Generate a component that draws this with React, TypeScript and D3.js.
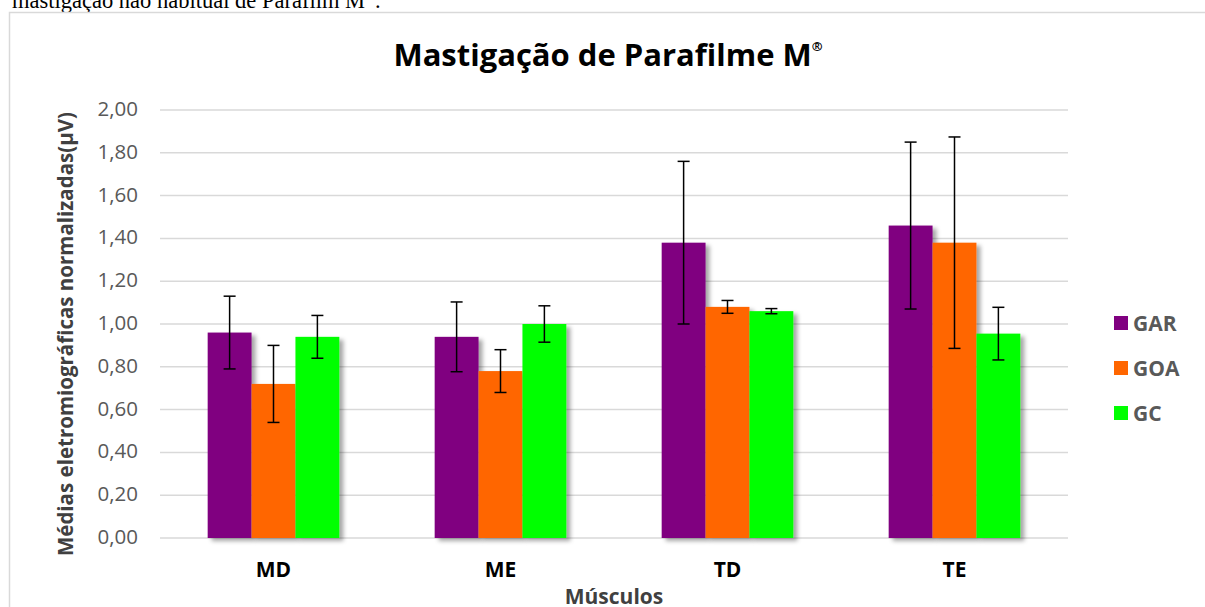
import React from "react";
import * as d3 from "d3";

const categories = ["MD", "ME", "TD", "TE"];
const seriesNames = ["GAR", "GOA", "GC"];
const seriesColors = ["#800080", "#FF6600", "#00FF00"];
const garValues = [0.96, 0.94, 1.38, 1.46];
const goaValues = [0.72, 0.78, 1.08, 1.38];
const gcValues = [0.94, 1.0, 1.06, 0.955];
const garErrors = [0.17, 0.163, 0.38, 0.39];
const goaErrors = [0.18, 0.1, 0.03, 0.494];
const gcErrors = [0.1, 0.085, 0.012, 0.123];
const yTicks = [0, 0.2, 0.4, 0.6, 0.8, 1.0, 1.2, 1.4, 1.6, 1.8, 2.0];

const seriesValues = [garValues, goaValues, gcValues];
const seriesErrors = [garErrors, goaErrors, gcErrors];

const W = 1205;
const H = 607;
const font = "'Open Sans', sans-serif";

export default function App() {
  const x0 = d3.scaleBand<string>().domain(categories).range([160, 1068]).paddingInner(0.42).paddingOuter(0.21);
  const x1 = d3.scaleBand<string>().domain(seriesNames).range([0, x0.bandwidth()]);
  const y = d3.scaleLinear().domain([0, 2]).range([538, 110]);
  const fmt = (v: number) => v.toFixed(2).replace(".", ",");

  return (
    <svg width={W} height={H} style={{ position: "absolute", left: 0, top: 0, background: "#fff" }}>
      <defs>
        <filter id="shadow" x="-20%" y="-10%" width="150%" height="130%">
          <feDropShadow dx="4" dy="3" stdDeviation="2" floodColor="#000" floodOpacity="0.35" />
        </filter>
      </defs>
      <text x={12} y={7.5} fontFamily="'Liberation Serif', serif" fontSize={22.5} fill="#000">
        mastigação não habitual de Parafilm M<tspan fontSize={13} dy={-9}>®</tspan><tspan dy={9}>.</tspan>
      </text>
      <rect x={9.5} y={12.5} width={1200} height={620} fill="none" stroke="#d9d9d9" strokeWidth={1.5} />
      <text x={608} y={66} textAnchor="middle" fontFamily={font} fontWeight="bold" fontSize={31} fill="#000">
        Mastigação de Parafilme M<tspan fontSize={13} dy={-15}>®</tspan>
      </text>
      {yTicks.map((t) => (
        <g key={t}>
          <line x1={160} x2={1068} y1={y(t)} y2={y(t)} stroke="#d9d9d9" strokeWidth={1.5} />
          <text x={138} y={y(t) + 6} textAnchor="end" fontFamily={font} fontSize={20.5} fill="#595959">
            {fmt(t)}
          </text>
        </g>
      ))}
      {seriesNames.map((s, si) => (
        <g key={s}>
          {categories.map((c, ci) => {
            const v = seriesValues[si][ci];
            const bx = (x0(c) as number) + (x1(s) as number);
            return (
              <rect key={c} x={bx} y={y(v)} width={x1.bandwidth()} height={y(0) - y(v)} fill={seriesColors[si]} filter="url(#shadow)" />
            );
          })}
        </g>
      ))}
      {seriesNames.map((s, si) => (
        <g key={s + "e"}>
          {categories.map((c, ci) => {
            const v = seriesValues[si][ci];
            const e = seriesErrors[si][ci];
            const cx = (x0(c) as number) + (x1(s) as number) + x1.bandwidth() / 2;
            return (
              <g key={c} stroke="#000" strokeWidth={1.5}>
                <line x1={cx} x2={cx} y1={y(v + e)} y2={y(v - e)} />
                <line x1={cx - 6} x2={cx + 6} y1={y(v + e)} y2={y(v + e)} />
                <line x1={cx - 6} x2={cx + 6} y1={y(v - e)} y2={y(v - e)} />
              </g>
            );
          })}
        </g>
      ))}
      {categories.map((c) => (
        <text key={c} x={(x0(c) as number) + x0.bandwidth() / 2} y={577} textAnchor="middle" fontFamily={font} fontWeight="bold" fontSize={21} fill="#000">
          {c}
        </text>
      ))}
      <text x={614} y={604} textAnchor="middle" fontFamily={font} fontWeight="bold" fontSize={21} fill="#404040">
        Músculos
      </text>
      <text transform="translate(73,334) rotate(-90)" textAnchor="middle" fontFamily={font} fontWeight="bold" fontSize={20.5} fill="#404040">
        Médias eletromiográficas normalizadas(µV)
      </text>
      {seriesNames.map((s, si) => (
        <g key={s + "l"}>
          <rect x={1114} y={316 + si * 45} width={14} height={14} fill={seriesColors[si]} />
          <text x={1133} y={330.5 + si * 45} fontFamily={font} fontWeight="bold" fontSize={21} fill="#595959">
            {s}
          </text>
        </g>
      ))}
    </svg>
  );
}
